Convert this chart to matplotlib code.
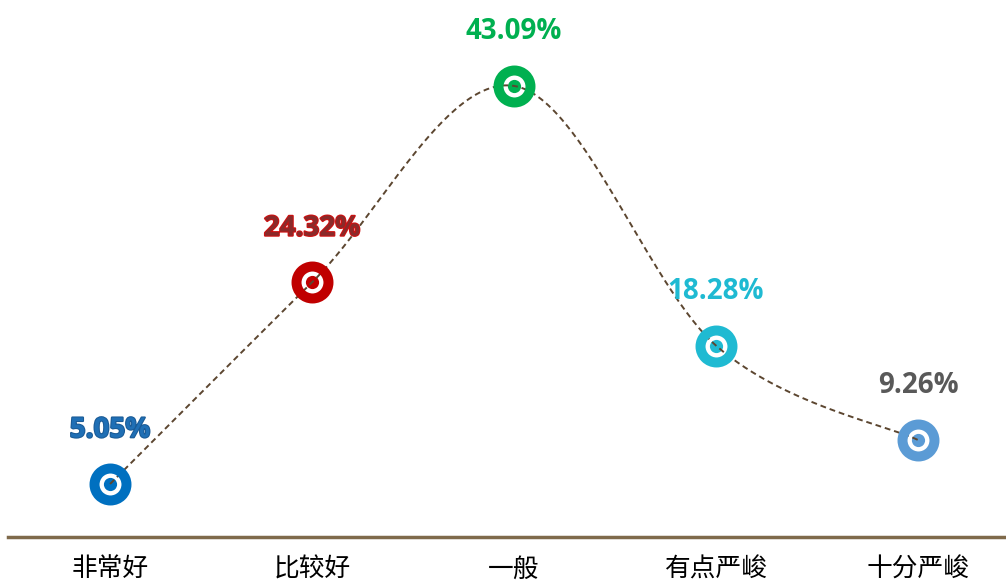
import numpy as np
import matplotlib
matplotlib.use("Agg")
import matplotlib.pyplot as plt
import matplotlib.patheffects as pe

plt.rcParams['font.family'] = ['Noto Sans CJK SC', 'DejaVu Sans']

categories = ['非常好', '比较好', '一般', '有点严峻', '十分严峻']
values = [5.05, 24.32, 43.09, 18.28, 9.26]
labels = ['5.05%', '24.32%', '43.09%', '18.28%', '9.26%']
colors = ['#0070C0', '#C00000', '#00B050', '#1FBAD2', '#5B9BD5']
text_fill = ['#1F6FB5', '#8A2A2A', '#00B050', '#1FBAD2', '#595959']
text_edge = ['#1A5A95', '#D01010', None, None, None]


def smooth(xs, ys, n=60):
    # Excel-style smoothed line: cubic Bezier with 1/6 neighbour tangents
    pts = np.column_stack([xs, ys]).astype(float)
    padded = np.vstack([pts[0], pts, pts[-1]])
    out = []
    t = np.linspace(0, 1, n)[:, None]
    for i in range(len(pts) - 1):
        p0 = pts[i]
        p3 = pts[i + 1]
        p1 = p0 + (padded[i + 2] - padded[i]) / 6
        p2 = p3 - (padded[i + 3] - padded[i + 1]) / 6
        seg = ((1 - t) ** 3) * p0 + 3 * ((1 - t) ** 2) * t * p1 + 3 * (1 - t) * t ** 2 * p2 + t ** 3 * p3
        out.append(seg)
    out = np.vstack(out)
    return out[:, 0], out[:, 1]


fig = plt.figure(figsize=(10.06, 5.83), dpi=100)
ax = fig.add_axes([0, 0.0792, 1, 0.9208])
ax.set_xlim(-0.545, 4.436)
ax.set_ylim(0, 51.3)

x = np.arange(len(categories))

# donut markers: white core + dot under the line, coloured ring on top
for i in range(len(x)):
    ax.plot(x[i], values[i], 'o', ms=17, color='white', mec='none', zorder=2)
    ax.plot(x[i], values[i], 'o', ms=9.5, color=colors[i], mec='none', zorder=2.5)
    ax.plot(x[i], values[i], 'o', ms=23, mfc='none', mec=colors[i], mew=7.2, zorder=4)

sx, sy = smooth(x, values)
ax.plot(sx, sy, color='#5C4630', lw=1.4, ls=(0, (3, 2)), zorder=3)

for i in range(len(x)):
    t = ax.annotate(labels[i], (x[i], values[i]), xytext=(0, 39), textcoords='offset points',
                    ha='center', va='center', fontsize=20, fontweight='bold',
                    family=['Open Sans', 'DejaVu Sans'], color=text_fill[i], zorder=7)
    if text_edge[i]:
        t.set_path_effects([pe.withStroke(linewidth=1.5, foreground=text_edge[i])])

ax.axhline(0, xmin=8 / 1006, xmax=1, color='#7F6A4B', lw=2.5, clip_on=False)

ax.set_xticks(x)
ax.set_xticklabels(categories, fontsize=18.5)
ax.tick_params(axis='x', length=0, pad=14)
ax.set_yticks([])
for s in ax.spines.values():
    s.set_visible(False)

fig.savefig('out.png', dpi=100)
